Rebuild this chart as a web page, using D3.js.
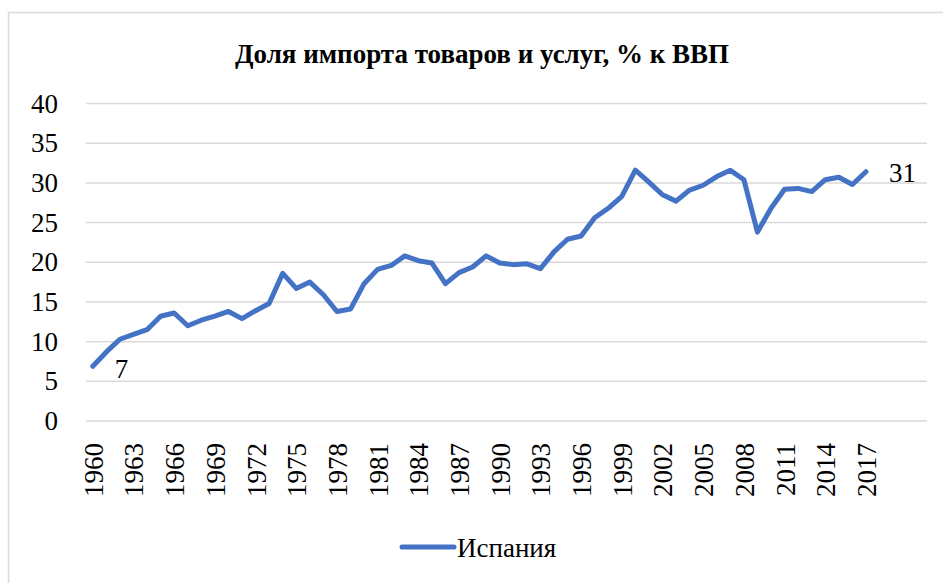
<!DOCTYPE html>
<html>
<head>
<meta charset="utf-8">
<script src="https://cdn.jsdelivr.net/npm/d3@7"></script>
</head>
<body style="margin:0;font-family:'Liberation Serif'">
<svg id="chart" width="943" height="583"></svg>
<script>
const years = d3.range(1960, 2018);
const importShare = [
  6.9, 8.7, 10.3, 10.9, 11.5, 13.2, 13.6, 12.0, 12.7, 13.2,
  13.8, 12.9, 13.9, 14.8, 18.6, 16.7, 17.5, 15.9, 13.8, 14.1,
  17.3, 19.1, 19.6, 20.8, 20.2, 19.9, 17.3, 18.7, 19.4, 20.8,
  19.9, 19.7, 19.8, 19.2, 21.3, 22.9, 23.3, 25.6, 26.8, 28.3,
  31.6, 30.1, 28.5, 27.7, 29.1, 29.7, 30.8, 31.6, 30.4, 23.8,
  26.8, 29.2, 29.3, 28.9, 30.4, 30.7, 29.8, 31.4
];
const yTicks = [0, 5, 10, 15, 20, 25, 30, 35, 40];
const xTickYears = years.filter((y, i) => i % 3 === 0);
const seriesName = 'Испания';
const title = 'Доля импорта товаров и услуг, % к ВВП';

const plot = { left: 86, right: 927, top: 103.5, bottom: 421 };
const blue = '#4472C4';
const font = px => `font-family:'Liberation Serif';font-size:${px}px`;

const svg = d3.select('#chart');

// chart border
svg.append('rect')
  .attr('x', 8.5).attr('y', 12.5)
  .attr('width', 943).attr('height', 583)
  .attr('fill', 'none')
  .attr('stroke', '#d9d9d9')
  .attr('stroke-width', 1.5);

svg.append('text')
  .attr('x', 482)
  .attr('y', 63)
  .attr('text-anchor', 'middle')
  .attr('style', font(27) + ';font-weight:bold')
  .text(title);

// category axis: 62 slots (1960..2021), points at slot centres
const x = d3.scaleLinear()
  .domain([1959.5, 2021.5])
  .range([plot.left, plot.right]);

const y = d3.scaleLinear()
  .domain([0, 40])
  .range([plot.bottom, plot.top]);

// gridlines
svg.append('g')
  .selectAll('line')
  .data(yTicks)
  .join('line')
  .attr('x1', plot.left)
  .attr('x2', plot.right)
  .attr('y1', d => y(d))
  .attr('y2', d => y(d))
  .attr('stroke', '#d9d9d9')
  .attr('stroke-width', 1.5);

const yAxis = svg.append('g')
  .attr('transform', `translate(${plot.left},0)`)
  .call(d3.axisLeft(y).tickValues(yTicks).tickSize(0).tickPadding(28));
yAxis.select('.domain').remove();
yAxis.selectAll('text')
  .attr('fill', '#000')
  .attr('style', font(27));

const xAxis = svg.append('g')
  .attr('transform', `translate(0,${plot.bottom})`)
  .call(d3.axisBottom(x).tickValues(xTickYears).tickFormat(d3.format('d')).tickSize(0));
xAxis.select('.domain').remove();
xAxis.selectAll('text')
  .attr('fill', '#000')
  .attr('style', font(27))
  .attr('text-anchor', 'end')
  .attr('dy', '0.35em')
  .attr('transform', 'translate(0,22) rotate(-90)')
  .attr('y', 0)
  .attr('x', 0);

const points = years.map((yr, i) => ({ year: yr, value: importShare[i] }));

const line = d3.line()
  .x(d => x(d.year))
  .y(d => y(d.value));

svg.append('path')
  .datum(points)
  .attr('d', line)
  .attr('fill', 'none')
  .attr('stroke', blue)
  .attr('stroke-width', 5)
  .attr('stroke-linejoin', 'round')
  .attr('stroke-linecap', 'round');

// data labels on first and last points
const first = points[0], last = points[points.length - 1];
svg.append('text')
  .attr('x', x(first.year) + 22)
  .attr('y', y(first.value) + 12)
  .attr('style', font(27))
  .text(d3.format('.0f')(first.value));

svg.append('text')
  .attr('x', x(last.year) + 23)
  .attr('y', y(last.value) + 10)
  .attr('style', font(27))
  .text(d3.format('.0f')(last.value));

// legend
const legend = svg.append('g').attr('transform', 'translate(400,547)');
legend.append('line')
  .attr('x1', 2).attr('x2', 54)
  .attr('stroke', blue)
  .attr('stroke-width', 5)
  .attr('stroke-linecap', 'round');
legend.append('text')
  .attr('x', 57)
  .attr('y', 10)
  .attr('style', font(27))
  .text(seriesName);
</script>
</body>
</html>
